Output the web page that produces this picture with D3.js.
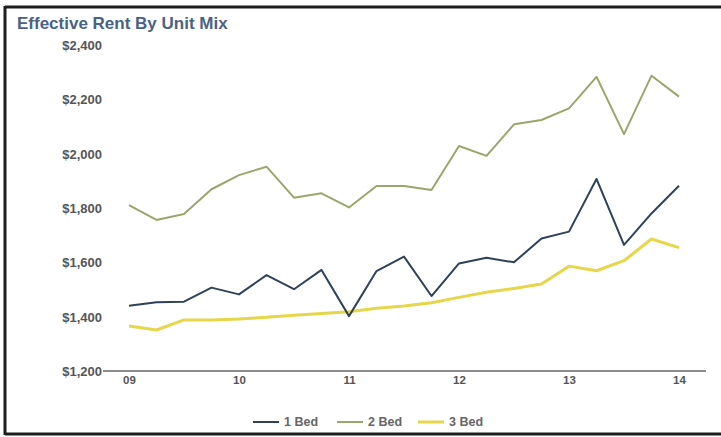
<!DOCTYPE html>
<html><head><meta charset="utf-8">
<script src="https://cdn.jsdelivr.net/npm/d3@7"></script>
<style>
html,body{margin:0;padding:0;background:#fff;}
svg{display:block;}
</style></head>
<body>
<svg id="chart" width="721" height="437"></svg>
<script>
const quarters = d3.range(21);
const yearLabels = ["09","10","11","12","13","14"];
const yearTickIdx = [0,4,8,12,16,20];
const yTicks = [1200,1400,1600,1800,2000,2200,2400];
const bed1 = [1440,1453,1455,1507,1482,1553,1501,1572,1402,1568,1621,1476,1596,1617,1600,1688,1713,1907,1664,1780,1882];
const bed2 = [1811,1756,1778,1869,1921,1952,1838,1854,1802,1881,1881,1866,2028,1992,2108,2124,2167,2283,2072,2287,2210];
const bed3 = [1366,1351,1388,1388,1391,1398,1405,1412,1418,1431,1439,1451,1471,1490,1504,1520,1586,1569,1606,1686,1654];
const seriesNames = ["1 Bed","2 Bed","3 Bed"];
const seriesColors = ["#2f4259","#9aa76c","#e6d64a"];
const seriesWidths = [2,2,3];
const seriesData = [bed1,bed2,bed3];

const svg = d3.select("#chart");
const font = "Arial, 'Liberation Sans', sans-serif";

// frame
svg.append("line").attr("x1",5).attr("x2",5).attr("y1",6).attr("y2",435).attr("stroke","#1e1e1e").attr("stroke-width",3);
svg.append("line").attr("x1",5).attr("x2",721).attr("y1",7).attr("y2",7).attr("stroke","#1e1e1e").attr("stroke-width",3);
svg.append("line").attr("x1",5).attr("x2",721).attr("y1",434).attr("y2",434).attr("stroke","#1e1e1e").attr("stroke-width",3);

svg.append("text").attr("x",17).attr("y",29).text("Effective Rent By Unit Mix")
  .attr("font-family",font).attr("font-weight","bold").attr("font-size",17).attr("fill","#4a6283");

const x = d3.scaleLinear().domain([0,20]).range([129,679]);
const y = d3.scaleLinear().domain([1200,2400]).range([371,45]);

// y axis labels
const yAxis = d3.axisLeft(y).tickValues(yTicks).tickSize(0).tickPadding(0)
  .tickFormat(d => "$" + d3.format(",")(d));
const gy = svg.append("g").attr("transform","translate(102,0)").call(yAxis);
gy.select(".domain").remove();
gy.selectAll("text").attr("font-family",font).attr("font-weight","bold").attr("font-size",13).attr("fill","#555").attr("dy","0.35em");

// x axis
const xAxis = d3.axisBottom(x).tickValues(yearTickIdx).tickSize(0).tickPadding(5)
  .tickFormat((d,i) => yearLabels[i]);
const gx = svg.append("g").attr("transform","translate(0,371)").call(xAxis);
gx.select(".domain").remove();
gx.selectAll("text").attr("font-family",font).attr("font-weight","bold").attr("font-size",11.5).attr("fill","#555");
svg.append("line").attr("x1",103).attr("x2",706).attr("y1",y(1200)).attr("y2",y(1200)).attr("stroke","#666").attr("stroke-width",1.5);

const line = d3.line().x((d,i)=>x(quarters[i])).y(d=>y(d));
[1,2,0].forEach(k => {
  svg.append("path").datum(seriesData[k]).attr("d",line).attr("fill","none")
    .attr("stroke",seriesColors[k]).attr("stroke-width",seriesWidths[k]).attr("stroke-linejoin","round");
});

// legend
const legX = [253,337,418];
seriesNames.forEach((n,k) => {
  const g = svg.append("g").attr("transform",`translate(${legX[k]},422)`);
  g.append("line").attr("x1",0).attr("x2",26).attr("y1",0).attr("y2",0).attr("stroke",seriesColors[k]).attr("stroke-width",seriesWidths[k]);
  g.append("text").attr("x",31).attr("y",0).attr("dy","0.35em").text(n)
    .attr("font-family",font).attr("font-weight","bold").attr("font-size",12.5).attr("fill","#666");
});
</script>
</body></html>
